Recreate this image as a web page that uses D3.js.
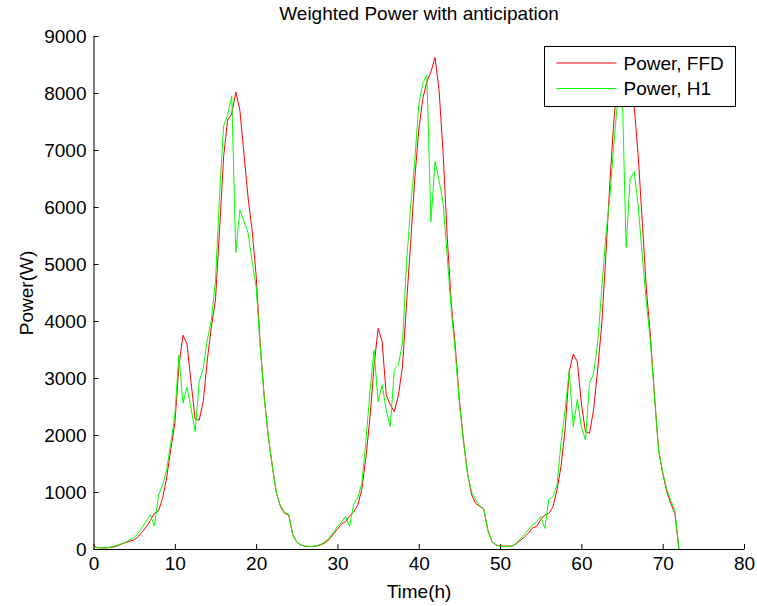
<!DOCTYPE html>
<html>
<head>
<meta charset="utf-8">
<script src="https://cdn.jsdelivr.net/npm/d3@7"></script>
<style>
  body { margin: 0; background: #fff; }
  svg { display: block; font-family: "Liberation Sans", Arial, sans-serif; }
  .axis text { font-size: 19px; fill: #000; }
  .axis path, .axis line { stroke: #000; }
</style>
</head>
<body>
<svg width="757" height="606"></svg>
<script>
// half-hour samples, 0 .. 72 h
const hours = d3.range(0, 72.5, 0.5);

const powerFFD = [
  50, 25, 20, 20, 25, 35, 60, 90, 115, 140,
  160, 220, 300, 390, 500, 630, 670, 890, 1250, 1750,
  2200, 3200, 3750, 3600, 2920, 2280, 2260, 2590, 3320, 3900,
  4370, 5600, 6880, 7530, 7630, 8020, 7700, 6940, 6180, 5600,
  4800, 3600, 2670, 1970, 1445, 980, 740, 625, 600, 250,
  120, 70, 50, 45, 45, 55, 75, 110, 170, 260,
  350, 440, 480, 580, 650, 770, 1050, 1600, 2300, 3200,
  3870, 3640, 2700, 2530, 2410, 2700, 3200, 4310, 5360, 6470,
  7350, 7900, 8200, 8370, 8625, 8050, 6940, 5480, 4310, 3550,
  2610, 1910, 1330, 950, 800, 750, 700, 330, 130, 70,
  55, 50, 50, 50, 95, 150, 210, 280, 375, 390,
  515, 600, 625, 740, 1035, 1450, 2100, 3110, 3420, 3290,
  2555, 2060, 2030, 2440, 3140, 3930, 5130, 6415, 7530, 8250,
  8600, 8700, 8200, 7760, 6880, 5715, 4545, 3725, 2670, 1740,
  1330, 1005, 800, 625, 0
];

const powerH1 = [
  30, 20, 20, 20, 30, 50, 70, 95, 125, 160,
  200, 280, 380, 490, 600, 400, 950, 1120, 1400, 1850,
  2350, 3400, 2560, 2840, 2470, 2060, 2935, 3170, 3670, 4020,
  4700, 6200, 7420, 7620, 7950, 5200, 5950, 5750, 5550, 5050,
  4600, 3550, 2650, 1970, 1445, 980, 760, 640, 610, 260,
  120, 70, 50, 45, 45, 60, 85, 130, 200, 290,
  400, 470, 570, 400, 790, 900, 1150, 1900, 2750, 3490,
  2585, 2880, 2440, 2150, 3150, 3230, 3610, 5010, 6000, 6800,
  7790, 8170, 8315, 5740, 6795, 6470, 6065, 5130, 4190, 3450,
  2550, 1880, 1320, 1000, 860, 760, 700, 330, 130, 70,
  50, 45, 45, 55, 100, 180, 260, 340, 420, 480,
  570, 360, 870, 920, 1120, 1860, 2450, 3110, 2145, 2625,
  2145, 1910, 2905, 3080, 3610, 4545, 5480, 6180, 7120, 7935,
  8200, 5290, 6500, 6620, 6005, 5130, 4310, 3630, 2650, 1720,
  1350, 1050, 850, 680, 0
];

const xTicks = [0, 10, 20, 30, 40, 50, 60, 70, 80];
const yTicks = [0, 1000, 2000, 3000, 4000, 5000, 6000, 7000, 8000, 9000];
const seriesNames = ["Power, FFD", "Power, H1"];
const seriesColors = ["#ff0000", "#00ff00"];

const svg = d3.select("svg");

const x = d3.scaleLinear().domain([0, 80]).range([93.5, 744]);
const y = d3.scaleLinear().domain([0, 9000]).range([549, 36]);

// axes (ticks pointing inward, no box)
svg.append("g")
    .attr("class", "axis")
    .attr("transform", "translate(0,549)")
    .call(d3.axisBottom(x).tickValues(xTicks).tickFormat(d3.format("d"))
        .tickSizeInner(-5).tickSizeOuter(0).tickPadding(8));

svg.append("g")
    .attr("class", "axis")
    .attr("transform", "translate(93.5,0)")
    .call(d3.axisLeft(y).tickValues(yTicks).tickFormat(d3.format("d"))
        .tickSizeInner(-5).tickSizeOuter(0).tickPadding(7));

// lines
const line = d3.line()
    .x((d, i) => x(hours[i]))
    .y(d => y(d));

[powerFFD, powerH1].forEach((s, k) => {
    svg.append("path")
        .datum(s)
        .attr("fill", "none")
        .attr("stroke", seriesColors[k])
        .attr("stroke-width", 1)
        .attr("d", line);
});

// titles
svg.append("text")
    .attr("x", 419).attr("y", 20)
    .attr("text-anchor", "middle")
    .attr("font-size", 19)
    .text("Weighted Power with anticipation");

svg.append("text")
    .attr("x", 419).attr("y", 598)
    .attr("text-anchor", "middle")
    .attr("font-size", 19)
    .text("Time(h)");

svg.append("text")
    .attr("transform", "translate(33,293) rotate(-90)")
    .attr("text-anchor", "middle")
    .attr("font-size", 19)
    .text("Power(W)");

// legend
const legend = svg.append("g").attr("transform", "translate(544.5,46.5)");
legend.append("rect")
    .attr("width", 191).attr("height", 60)
    .attr("fill", "#fff").attr("stroke", "#000");

seriesNames.forEach((name, k) => {
    const ly = 16.5 + k * 25.5;
    legend.append("line")
        .attr("x1", 12).attr("x2", 72)
        .attr("y1", ly).attr("y2", ly)
        .attr("stroke", seriesColors[k]);
    legend.append("text")
        .attr("x", 79).attr("y", ly)
        .attr("dy", "0.35em")
        .attr("font-size", 19)
        .text(name);
});
</script>
</body>
</html>
